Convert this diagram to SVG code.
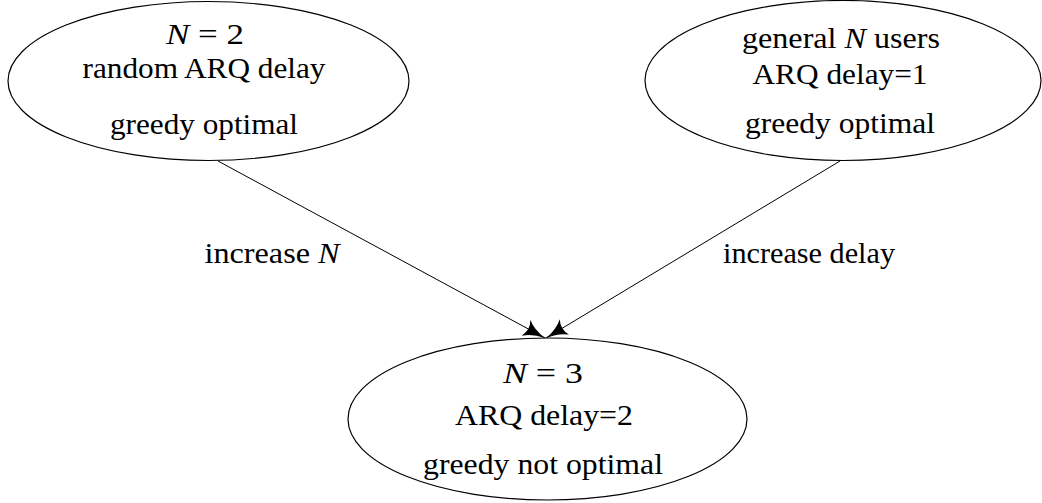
<svg xmlns="http://www.w3.org/2000/svg" width="1042" height="503" viewBox="0 0 1042 503">
  <style>
    .node ellipse { fill: none; stroke: #000; stroke-width: 1.2; }
    text { font-family: "Liberation Serif", "Times New Roman", "DejaVu Serif", serif; font-size: 30px; fill: #000; text-anchor: middle; }
    .m { font-style: italic; }
    .edge { stroke: #000; stroke-width: 1; fill: none; marker-end: url(#head); }
  </style>
  <defs>
    <!-- curved latex-style arrow tip -->
    <marker id="head" viewBox="0 0 22 18" refX="21.5" refY="9" markerWidth="22" markerHeight="18" markerUnits="userSpaceOnUse" orient="auto">
      <path d="M0,0 Q8,7 21.5,9 Q8,11 0,18 Q5,9 0,0 Z" fill="#000"/>
    </marker>
  </defs>
  <rect width="1042" height="503" fill="#fff"/>

  <g id="connectors">
    <line class="edge" x1="218" y1="161" x2="545" y2="338"/>
    <line class="edge" x1="840" y1="161" x2="546" y2="338"/>
    <text x="272" y="263" textLength="135" lengthAdjust="spacingAndGlyphs">increase <tspan class="m">N</tspan></text>
    <text x="809" y="263" textLength="172" lengthAdjust="spacingAndGlyphs">increase delay</text>
  </g>

  <g id="node-n2" class="node">
    <ellipse cx="208.5" cy="81" rx="200.5" ry="79.5"/>
    <text x="205" y="44" textLength="78" lengthAdjust="spacingAndGlyphs"><tspan class="m">N</tspan> = 2</text>
    <text x="204" y="78" textLength="243" lengthAdjust="spacingAndGlyphs">random ARQ delay</text>
    <text x="204" y="134" textLength="188" lengthAdjust="spacingAndGlyphs">greedy optimal</text>
  </g>

  <g id="node-general" class="node">
    <ellipse cx="843" cy="80.5" rx="198" ry="80"/>
    <text x="841" y="48" textLength="198" lengthAdjust="spacingAndGlyphs">general <tspan class="m">N</tspan> users</text>
    <text x="840" y="84" textLength="175" lengthAdjust="spacingAndGlyphs">ARQ delay=1</text>
    <text x="840" y="133" textLength="190" lengthAdjust="spacingAndGlyphs">greedy optimal</text>
  </g>

  <g id="node-n3" class="node">
    <ellipse cx="547.5" cy="419" rx="199.5" ry="81"/>
    <text x="543" y="383" textLength="80" lengthAdjust="spacingAndGlyphs"><tspan class="m">N</tspan> = 3</text>
    <text x="544" y="425" textLength="178" lengthAdjust="spacingAndGlyphs">ARQ delay=2</text>
    <text x="543" y="474" textLength="240" lengthAdjust="spacingAndGlyphs">greedy not optimal</text>
  </g>
</svg>
